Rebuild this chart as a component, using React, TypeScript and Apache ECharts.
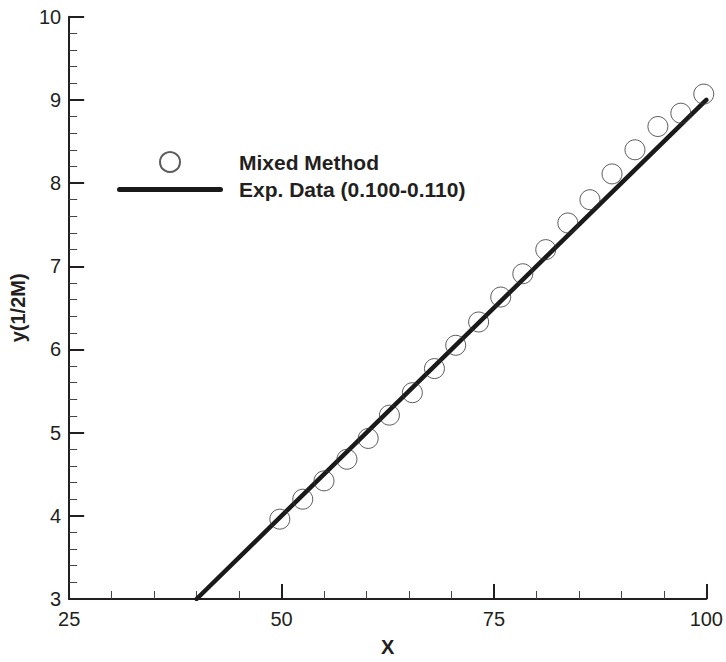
import React, { useEffect, useRef } from "react";
import * as echarts from "echarts";

const mixedX = [49.8, 52.5, 55.0, 57.7, 60.2, 62.7, 65.4, 68.0, 70.5, 73.2, 75.8, 78.4, 81.1, 83.7, 86.3, 88.9, 91.6, 94.3, 97.0, 99.7];
const mixedY = [3.96, 4.2, 4.42, 4.68, 4.93, 5.21, 5.48, 5.77, 6.05, 6.33, 6.63, 6.91, 7.2, 7.52, 7.8, 8.11, 8.4, 8.68, 8.84, 9.07];
const expX = [40, 100];
const expY = [3, 9];
const seriesNames = ["Mixed Method", "Exp. Data (0.100-0.110)"];
const xTicks = [25, 50, 75, 100];
const yTicks = [3, 4, 5, 6, 7, 8, 9, 10];

const INK = "#231f20";
const FONT = "'Liberation Sans', Arial, Helvetica, sans-serif";

export default function App() {
  const ref = useRef<HTMLDivElement>(null);
  useEffect(() => {
    if (!ref.current) return;
    const chart = echarts.init(ref.current, undefined, { renderer: "svg" });
    const axisCommon = {
      type: "value" as const,
      splitLine: { show: false },
      axisLine: { show: true, onZero: false, lineStyle: { color: INK, width: 2 } },
      axisTick: { show: true, inside: true, length: 15, lineStyle: { color: INK, width: 2 } },
      minorTick: { show: true, splitNumber: 5, length: 8, lineStyle: { color: "#444", width: 1 } },
      axisLabel: { color: INK, fontSize: 20, fontFamily: FONT },
      nameTextStyle: { color: INK, fontSize: 20, fontWeight: "bold" as const, fontFamily: FONT },
    };
    chart.setOption({
      animation: false,
      backgroundColor: "#fff",
      grid: { left: 66.7, right: 18.5, top: 16.7, bottom: 62, containLabel: false },
      xAxis: {
        ...axisCommon,
        min: xTicks[0],
        max: xTicks[xTicks.length - 1],
        interval: xTicks[1] - xTicks[0],
        name: "X",
        nameLocation: "middle",
        nameGap: 38,
        axisLabel: { ...axisCommon.axisLabel, margin: 10 },
      },
      yAxis: {
        ...axisCommon,
        min: yTicks[0],
        max: yTicks[yTicks.length - 1],
        interval: yTicks[1] - yTicks[0],
        name: "y(1/2M)",
        nameLocation: "middle",
        nameGap: 33,
        axisLabel: { ...axisCommon.axisLabel, margin: 8 },
      },
      legend: {
        orient: "vertical",
        left: 117,
        top: 151,
        padding: 0,
        itemWidth: 106,
        itemHeight: 20,
        itemGap: 6,
        symbolKeepAspect: true,
        data: [
          { name: seriesNames[0], icon: "circle" },
          { name: seriesNames[1], icon: "path://M2.5,0 L103.5,0 A2.5,2.5 0 0 1 103.5,5 L2.5,5 A2.5,2.5 0 0 1 2.5,0 Z" },
        ],
        textStyle: { color: INK, fontSize: 21, fontWeight: "bold", fontFamily: FONT, padding: [0, 0, 0, 11] },
      },
      series: [
        {
          name: seriesNames[1],
          type: "line",
          data: expX.map((x, i) => [x, expY[i]]),
          symbol: "none",
          z: 2,
          lineStyle: { color: "#1a1a1a", width: 4.5, cap: "round" },
          itemStyle: { color: "#1a1a1a" },
        },
        {
          name: seriesNames[0],
          type: "scatter",
          data: mixedX.map((x, i) => [x, mixedY[i]]),
          symbol: "circle",
          symbolSize: 20,
          z: 3,
          itemStyle: { color: "rgba(255,255,255,0)", borderColor: "#333", borderWidth: 1 },
        },
      ],
    });
    return () => chart.dispose();
  }, []);
  return (
    <div
      ref={ref}
      style={{ position: "absolute", left: 0, top: 0, width: 726, height: 662, background: "#fff" }}
    />
  );
}
